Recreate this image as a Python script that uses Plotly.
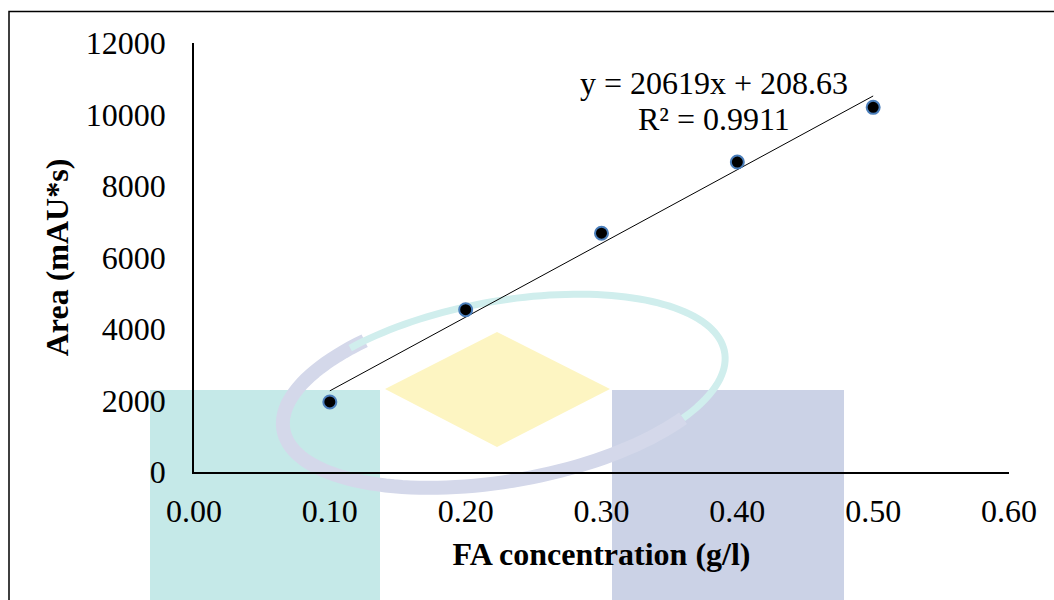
import numpy as np
import plotly.graph_objects as go

# ---- data ----
conc = [0.10, 0.20, 0.30, 0.40, 0.50]
area = [1960, 4540, 6680, 8670, 10200]
slope = 20619
intercept = 208.63
r2 = 0.9911
x_ticks = [0.0, 0.1, 0.2, 0.3, 0.4, 0.5, 0.6]
x_tick_labels = ["0.00", "0.10", "0.20", "0.30", "0.40", "0.50", "0.60"]
y_ticks = [0, 2000, 4000, 6000, 8000, 10000, 12000]
y_tick_labels = [str(v) for v in y_ticks]

FONT = "Liberation Serif, Times New Roman, serif"
FS = 32

# plot-area pixel geometry (for decorative watermark / frame)
L, R, T, B = 194, 1009, 43, 472
W, H = R - L, B - T


def px(x):
    return (x - L) / W


def py(y):
    return (B - y) / H


trend_x = [conc[0], conc[-1]]
trend_y = [slope * v + intercept for v in trend_x]

fig = go.Figure()
fig.add_trace(go.Scatter(x=trend_x, y=trend_y, mode="lines",
                         line=dict(color="black", width=1), showlegend=False,
                         hoverinfo="skip"))
fig.add_trace(go.Scatter(x=conc, y=area, mode="markers",
                         marker=dict(size=13, color="black",
                                     line=dict(color="#4A7EBB", width=2)),
                         showlegend=False))

shapes = []
# watermark: teal rectangle
shapes.append(dict(type="rect", xref="paper", yref="paper", layer="below",
                   x0=px(150), x1=px(380), y0=py(620), y1=py(390),
                   fillcolor="rgb(197,233,232)", line=dict(width=0)))
# blue-grey rectangle
shapes.append(dict(type="rect", xref="paper", yref="paper", layer="below",
                   x0=px(612), x1=px(844), y0=py(620), y1=py(390),
                   fillcolor="rgb(203,210,230)", line=dict(width=0)))
# yellow diamond
dpts = [(385, 389), (497, 332), (610, 389), (497, 447)]
dpath = "M " + " L ".join(f"{px(a):.5f},{py(b):.5f}" for a, b in dpts) + " Z"
shapes.append(dict(type="path", xref="paper", yref="paper", layer="below",
                   path=dpath, fillcolor="rgb(253,245,194)", line=dict(width=0)))
# swoosh ellipse
cx, cy, ea, eb, phi = 504, 391, 224, 90, np.radians(-10)


def arc(t0, t1, n=80):
    t = np.radians(np.linspace(t0, t1, n))
    xs = cx + ea * np.cos(t) * np.cos(phi) - eb * np.sin(t) * np.sin(phi)
    ys = cy + ea * np.cos(t) * np.sin(phi) + eb * np.sin(t) * np.cos(phi)
    return "M " + " L ".join(f"{px(a):.5f},{py(b):.5f}" for a, b in zip(xs, ys))


shapes.append(dict(type="path", xref="paper", yref="paper", layer="below",
                   path=arc(40, 235), line=dict(color="rgb(212,216,234)", width=14)))
shapes.append(dict(type="path", xref="paper", yref="paper", layer="below",
                   path=arc(230, 400), line=dict(color="rgb(208,238,237)", width=7)))
# outer frame
shapes.append(dict(type="rect", xref="paper", yref="paper", layer="above",
                   x0=px(9), x1=px(1070), y0=py(620), y1=py(11.5),
                   line=dict(color="black", width=1.5), fillcolor="rgba(0,0,0,0)"))

fig.update_layout(
    width=1054, height=600,
    margin=dict(l=L, r=1054 - R, t=T, b=600 - B),
    paper_bgcolor="white", plot_bgcolor="rgba(0,0,0,0)",
    font=dict(family=FONT, size=FS, color="black"),
    shapes=shapes,
    xaxis=dict(range=[0, 0.6], tickvals=x_ticks, ticktext=x_tick_labels,
               showgrid=False, zeroline=False, showline=True,
               linecolor="black", linewidth=2, ticks="",
               ticklabelstandoff=10,
               tickfont=dict(family=FONT, size=FS),
               title=dict(text="<b>FA concentration (g/l)</b>", standoff=14,
                          font=dict(family=FONT, size=FS))),
    yaxis=dict(range=[0, 12000], tickvals=y_ticks, ticktext=y_tick_labels,
               showgrid=False, zeroline=False, showline=True,
               linecolor="black", linewidth=1.5, ticks="",
               ticklabelstandoff=20,
               tickfont=dict(family=FONT, size=FS),
               title=dict(text="<b>Area (mAU*s)</b>", standoff=8,
                          font=dict(family=FONT, size=FS))),
    annotations=[
        dict(x=0.3828, y=10880, xref="x", yref="y",
             text=f"y = {slope}x + {intercept}", showarrow=False,
             font=dict(family=FONT, size=FS), xanchor="center", yanchor="middle"),
        dict(x=0.3828, y=9880, xref="x", yref="y",
             text=f"R² = {r2}", showarrow=False,
             font=dict(family=FONT, size=FS), xanchor="center", yanchor="middle"),
    ],
)

fig.write_html("out.html")
